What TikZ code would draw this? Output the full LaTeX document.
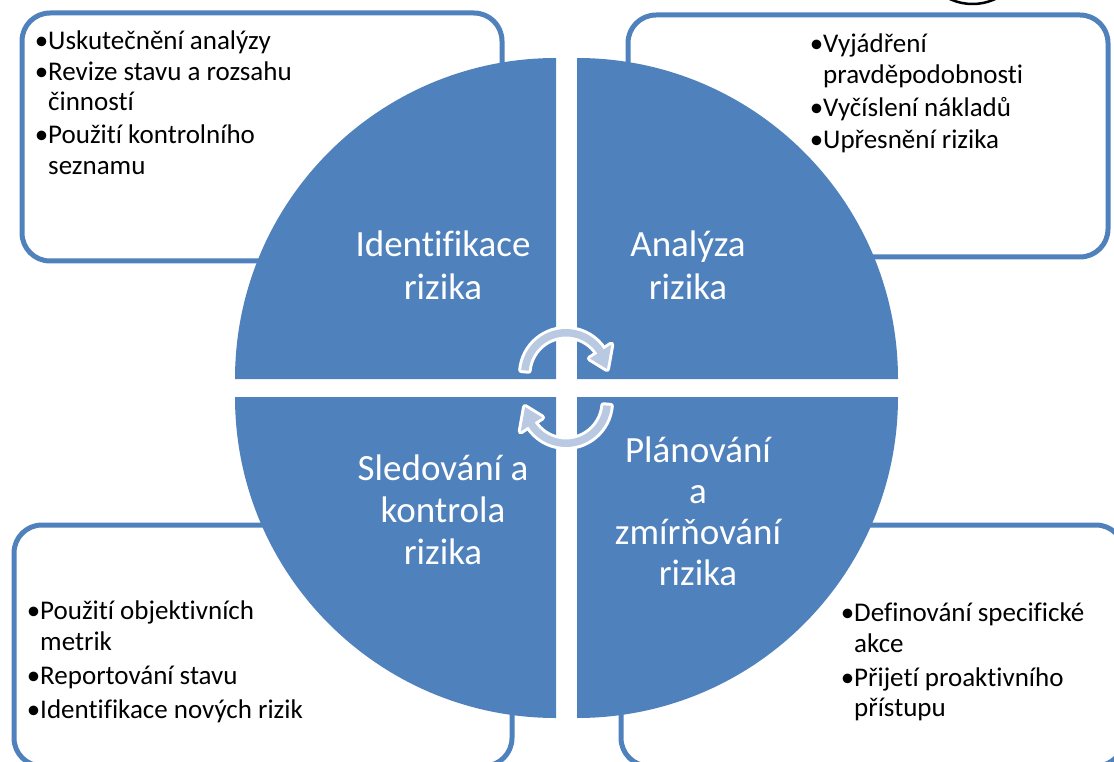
\documentclass[tikz,border=0pt]{standalone}
\usepackage{fontspec}
\setmainfont{Carlito}[Ligatures=NoCommon]
\definecolor{qblue}{HTML}{4F81BD}
\definecolor{arrowfill}{HTML}{B9C9E2}
\tikzset{
  box/.style={draw=qblue, line width=5pt, fill=white, rounded corners=28pt},
  quad/.style={fill=qblue},
  itemtxt/.style={anchor=base west, inner sep=0pt, font=\fontsize{27}{31}\selectfont, text=black},
  qtxt/.style={anchor=base, inner sep=0pt, font=\fontsize{37}{42}\selectfont, text=white},
  cycout/.style={draw=white, line width=6pt, line join=round},
  cycin/.style={fill=arrowfill},
}
\newcommand{\bul}{\llap{•}}
\newcommand{\toparrow}{(185:45) arc[start angle=185, end angle=327, radius=45]
    -- (327:54) -- (353:41.25) -- (327:28.5) -- (327:37.5)
    arc[start angle=327, end angle=185, radius=37.5] -- cycle}
\newcommand{\botarrow}{(5:45) arc[start angle=5, end angle=147, radius=45]
    -- (147:54) -- (173:41.25) -- (147:28.5) -- (147:37.5)
    arc[start angle=147, end angle=5, radius=37.5] -- cycle}
\begin{document}
\begin{tikzpicture}[x=1pt,y=-1pt]
\useasboundingbox (0,0) rectangle (1114,762);
\clip (0,0) rectangle (1114,762);
% small black arc at the top edge
\draw[black, line width=2.5pt] (972.5,-50) circle[radius=54];
% boxes
\draw[box] (22,13) rectangle (502,261);
\draw[box] (628,15) rectangle (1108,257);
\draw[box] (14,525) rectangle (512,766);
\draw[box] (621,525) rectangle (1124,766);
% quadrants
\fill[quad] (556,379) -- (235,379) arc[start angle=180, end angle=270, radius=321] -- cycle;
\fill[quad] (577,379) -- (577,58) arc[start angle=270, end angle=360, radius=321] -- cycle;
\fill[quad] (577,397) -- (898,397) arc[start angle=0, end angle=90, radius=321] -- cycle;
\fill[quad] (556,397) -- (556,718) arc[start angle=90, end angle=180, radius=321] -- cycle;
% cycle arrows
\begin{scope}[shift={(566,374)}]
  \draw[cycout] \toparrow;
  \fill[cycin] \toparrow;
\end{scope}
\begin{scope}[shift={(566,402)}]
  \draw[cycout] \botarrow;
  \fill[cycin] \botarrow;
\end{scope}
% quadrant labels
\node[qtxt] (q1a) at (443,257) {Identifikace};
\node[qtxt] (q1b) at (443,299) {rizika};
\node[qtxt] (q2a) at (688,257) {Analýza};
\node[qtxt] (q2b) at (688,299) {rizika};
\node[qtxt] (q3a) at (443,480) {Sledování a};
\node[qtxt] (q3b) at (443,522) {kontrola};
\node[qtxt] (q3c) at (443,564) {rizika};
\node[qtxt] (q4a) at (698,462) {Plánování};
\node[qtxt] (q4b) at (698,503) {a};
\node[qtxt] (q4c) at (698,544) {zmírňování};
\node[qtxt] (q4d) at (698,585) {rizika};
% top-left items
\node[itemtxt] (a1) at (48,50) {\bul Uskutečnění analýzy};
\node[itemtxt] (a2) at (48,81) {\bul Revize stavu a rozsahu};
\node[itemtxt] (a3) at (48,111) {činností};
\node[itemtxt] (a4) at (48,144) {\bul Použití kontrolního};
\node[itemtxt] (a5) at (48,175) {seznamu};
% top-right items
\node[itemtxt] (b1) at (823,53) {\bul Vyjádření};
\node[itemtxt] (b2) at (823,84) {pravděpodobnosti};
\node[itemtxt] (b3) at (823,117) {\bul Vyčíslení nákladů};
\node[itemtxt] (b4) at (823,149) {\bul Upřesnění rizika};
% bottom-left items
\node[itemtxt] (c1) at (40,619) {\bul Použití objektivních};
\node[itemtxt] (c2) at (40,650) {metrik};
\node[itemtxt] (c3) at (40,684) {\bul Reportování stavu};
\node[itemtxt] (c4) at (40,718) {\bul Identifikace nových rizik};
% bottom-right items
\node[itemtxt] (d1) at (854,621) {\bul Definování specifické};
\node[itemtxt] (d2) at (854,652) {akce};
\node[itemtxt] (d3) at (854,686) {\bul Přijetí proaktivního};
\node[itemtxt] (d4) at (854,716) {přístupu};
\end{tikzpicture}
\end{document}
